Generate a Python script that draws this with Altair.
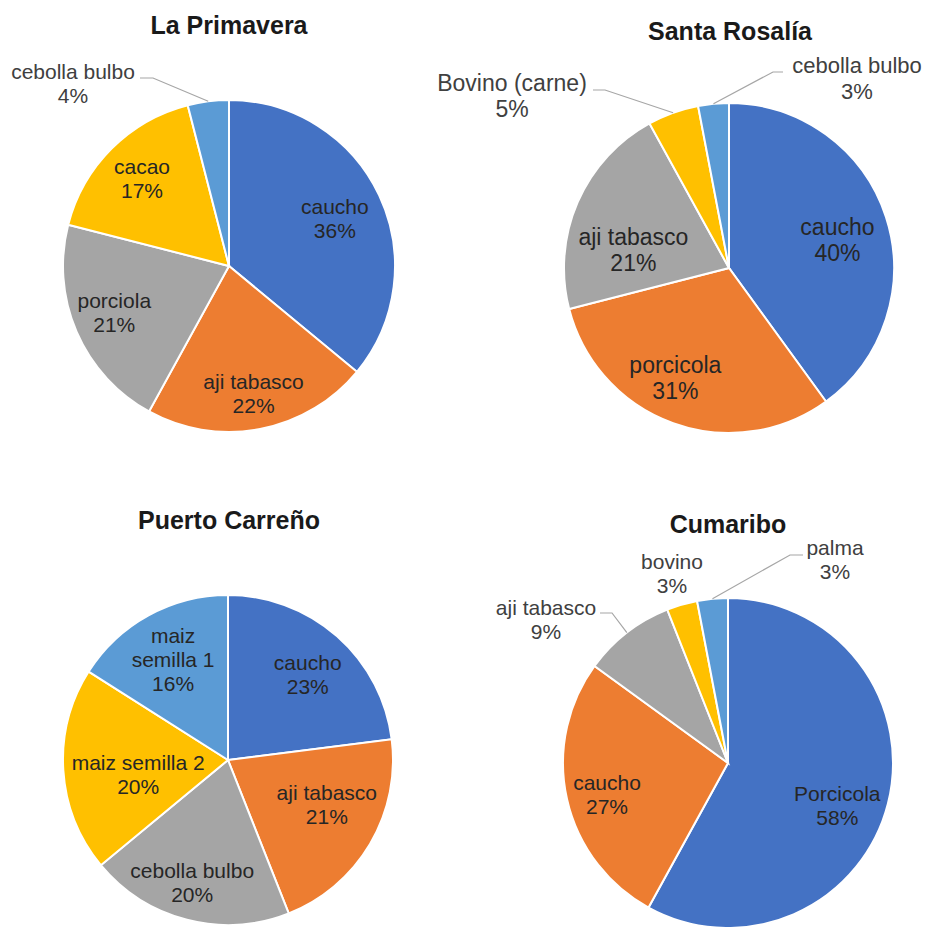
import altair as alt
import pandas as pd
import numpy as np

# ---------------- data ----------------
titles = ["La Primavera", "Santa Rosalía", "Puerto Carreño", "Cumaribo"]

lp_cats = ["caucho", "aji tabasco", "porciola", "cacao", "cebolla bulbo"]
lp_vals = [36, 22, 21, 17, 4]

sr_cats = ["caucho", "porcicola", "aji tabasco", "Bovino (carne)", "cebolla bulbo"]
sr_vals = [40, 31, 21, 5, 3]

pc_cats = ["caucho", "aji tabasco", "cebolla bulbo", "maiz semilla 2", "maiz semilla 1"]
pc_vals = [23, 21, 20, 20, 16]

cu_cats = ["Porcicola", "caucho", "aji tabasco", "bovino", "palma"]
cu_vals = [58, 27, 9, 3, 3]

# ---------------- style / layout ----------------
COLORS = ["#4472C4", "#ED7D31", "#A5A5A5", "#FFC000", "#5B9BD5"]
FONT = "Liberation Sans"
W, H = 915, 919

# lr = label radius per slice; nudge = small (dx, dy) label adjustment per slice
layouts = [
    dict(center=(221, 258), R=166, lr=[117, 131, 125, 123, 0],
         nudge=[(0, 4), (0, 0), (0, -2), (0, 1), (0, 0)], fs=21, lh=24, title=(221, 18),
         wrap={}, outside={"cebolla bulbo": dict(pos=(65, 77), start=(132, 70), knee=(145, 70))}),
    dict(center=(721, 260), R=165, lr=[114, 120, 102, 0, 0],
         nudge=[(0, 8), (-13, -2), (-2, 24), (0, 0), (0, 0)], fs=23, lh=26, title=(722, 24),
         wrap={}, outside={"Bovino (carne)": dict(pos=(504, 89), start=(585, 82), knee=(597, 82)),
                           "cebolla bulbo": dict(pos=(849, 71), start=(775, 64), knee=(765, 64), fs=22)}),
    dict(center=(220, 752), R=165, lr=[116, 109, 128, 93, 114],
         nudge=[(3, 3), (5, -9), (-4, 0), (3, 10), (0, 1)], fs=21, lh=24, title=(221, 513),
         wrap={"maiz semilla 1": "maiz\nsemilla 1"}, outside={}),
    dict(center=(720, 755), R=165, lr=[118, 125, 0, 0, 0],
         nudge=[(-5, 15), (1, 6), (0, 0), (0, 0), (0, 0)], fs=21, lh=24, title=(720, 517),
         wrap={}, outside={"aji tabasco": dict(pos=(538, 613), start=(592, 605), knee=(604, 605)),
                           "bovino": dict(pos=(664, 567)),
                           "palma": dict(pos=(827, 553), start=(795, 547), knee=(782, 547))}),
]

series = [(lp_cats, lp_vals), (sr_cats, sr_vals), (pc_cats, pc_vals), (cu_cats, cu_vals)]

theta = alt.Theta("value:Q", stack=True)
order = alt.Order("idx:Q", sort="ascending")
color = alt.Color("idx:O", scale=alt.Scale(domain=[0, 1, 2, 3, 4], range=COLORS), legend=None)

X = lambda f: alt.X(f, scale=None, axis=None)
Y = lambda f: alt.Y(f, scale=None, axis=None)

layers = []
out_rows = []
lead_rows = []
title_rows = []

for k, ((cats, vals), lay) in enumerate(zip(series, layouts)):
    cx, cy = lay["center"]
    R = lay["R"]
    df = pd.DataFrame({"cat": cats, "value": vals, "idx": list(range(len(cats)))})
    arcs = alt.Chart(df).mark_arc(x=cx, y=cy, outerRadius=R, stroke="white", strokeWidth=2).encode(
        theta=theta, order=order, color=color
    )
    layers.append(arcs)

    # inside labels: one layer per slice (keeps the full stack, only one text shown)
    for i, (c, v) in enumerate(zip(cats, vals)):
        if c in lay["outside"]:
            continue
        s = f"{lay['wrap'].get(c, c)}\n{v}%"
        n = s.count("\n") + 1
        ndx, ndy = lay["nudge"][i]
        d2 = df.copy()
        d2["label"] = [s if j == i else "" for j in range(len(cats))]
        txt = alt.Chart(d2).mark_text(
            x=cx, y=cy, radius=lay["lr"][i], fontSize=lay["fs"], lineHeight=lay["lh"],
            dx=ndx, dy=-(n - 1) * lay["lh"] / 2 + ndy, lineBreak="\n", font=FONT,
            color="#262626", align="center", baseline="middle"
        ).encode(theta=theta, order=order, text="label:N")
        layers.append(txt)

    # outside labels + leader lines (end point from slice mid-angle)
    cum = np.cumsum(vals)
    total = float(np.sum(vals))
    for c, v, cs in zip(cats, vals, cum):
        if c not in lay["outside"]:
            continue
        o = lay["outside"][c]
        out_rows.append(dict(text=f"{c}\n{v}%", x=o["pos"][0], y=o["pos"][1],
                             fs=o.get("fs", lay["fs"]), lh=lay["lh"]))
        if "start" in o:
            mid = (cs - v / 2.0) / total * 2 * np.pi
            ex = cx + R * np.sin(mid)
            ey = cy - R * np.cos(mid)
            lid = f"{k}-{c}"
            lead_rows += [
                dict(id=lid, o=0, x=o["start"][0], y=o["start"][1]),
                dict(id=lid, o=1, x=o["knee"][0], y=o["knee"][1]),
                dict(id=lid, o=2, x=float(ex), y=float(ey)),
            ]
    title_rows.append(dict(text=titles[k], x=lay["title"][0], y=lay["title"][1]))

leaders = alt.Chart(pd.DataFrame(lead_rows)).mark_line(color="#A6A6A6", strokeWidth=1.2).encode(
    x=X("x:Q"), y=Y("y:Q"), detail="id:N", order="o:Q"
)

out_df = pd.DataFrame(out_rows)
out_layers = []
for fs, lh in sorted(set(zip(out_df.fs, out_df.lh))):
    sub = out_df[(out_df.fs == fs) & (out_df.lh == lh)]
    out_layers.append(
        alt.Chart(sub).mark_text(
            fontSize=fs, lineHeight=lh, dy=-lh / 2, lineBreak="\n", font=FONT, color="#404040",
            align="center", baseline="middle"
        ).encode(x=X("x:Q"), y=Y("y:Q"), text="text:N")
    )

title_layer = alt.Chart(pd.DataFrame(title_rows)).mark_text(
    fontSize=25, fontWeight="bold", font=FONT, color="#1a1a1a", align="center", baseline="middle"
).encode(x=X("x:Q"), y=Y("y:Q"), text="text:N")

chart = alt.layer(*layers, leaders, *out_layers, title_layer).properties(
    width=W, height=H, padding=0, autosize=alt.AutoSizeParams(type="none"), background="white"
).configure_view(strokeWidth=0)

chart.save("out.html", embed_options={"renderer": "svg", "actions": False})
